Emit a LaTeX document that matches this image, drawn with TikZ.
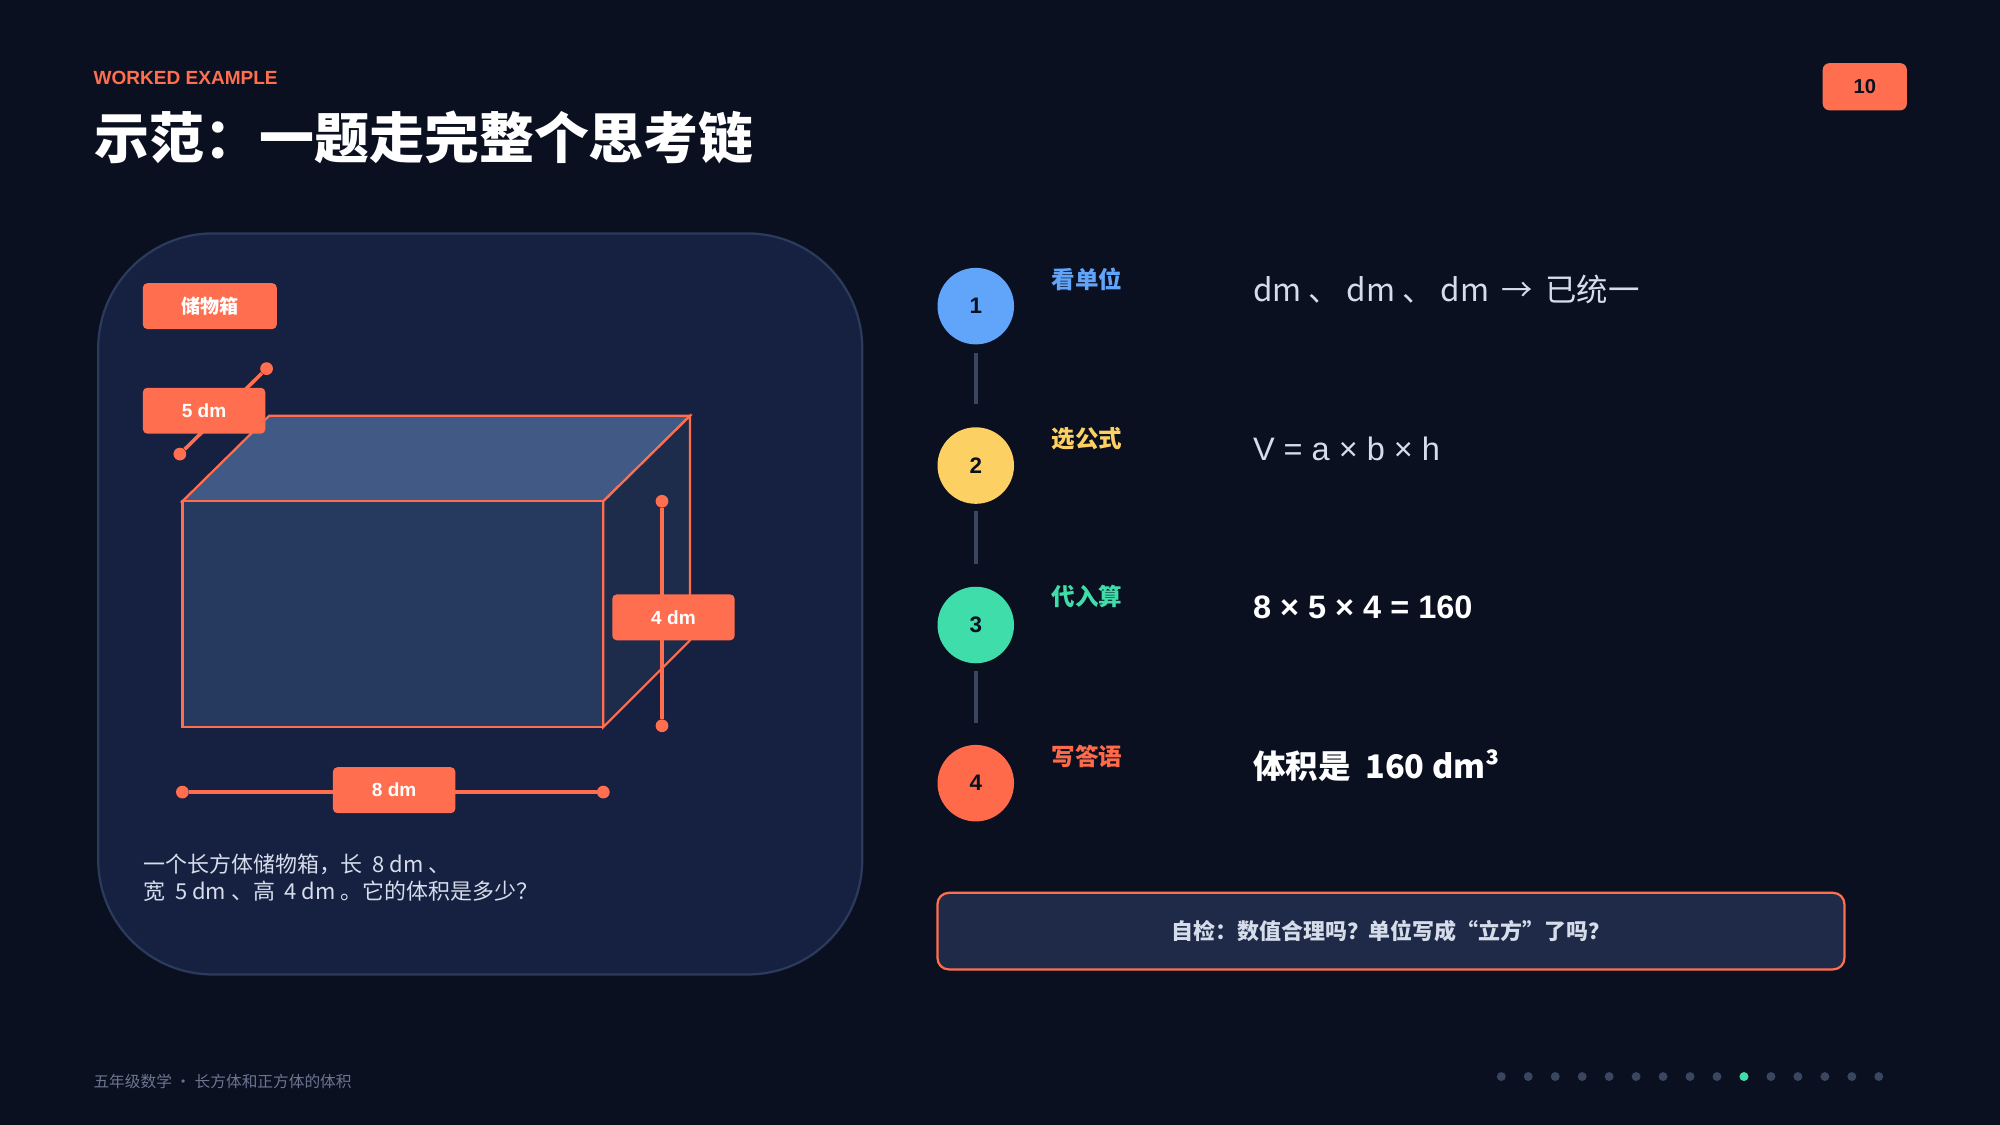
\documentclass[tikz,border=0pt]{standalone}
\usepackage{fontspec}
\setmainfont{Liberation Sans}
\newfontfamily\cjk{Noto Sans CJK SC}
\begin{document}
\definecolor{bg}{HTML}{0B1020}
\definecolor{panel}{HTML}{162040}
\definecolor{panelb}{HTML}{2C3A5C}
\definecolor{acc}{HTML}{FF6F4F}
\definecolor{cb}{HTML}{60A5FA}
\definecolor{cy}{HTML}{FCD062}
\definecolor{cg}{HTML}{3EDDA9}
\definecolor{co}{HTML}{FF6B4A}
\definecolor{txt}{HTML}{D5DCEA}
\definecolor{dimc}{HTML}{6B7590}
\definecolor{conn}{HTML}{3A4560}
\definecolor{ftop}{HTML}{415A85}
\definecolor{fside}{HTML}{1E2C4C}
\definecolor{ffront}{HTML}{263A60}
\definecolor{chkf}{HTML}{1E2A47}
\newcommand{\fs}[1]{\fontsize{#1pt}{#1pt}\selectfont}
\begin{tikzpicture}[x=0.02cm,y=-0.02cm,
 tag/.style={fill=acc,rounded corners=2pt,text=white,font=\cjk\bfseries\fs{8.5},inner sep=0,minimum width=96*0.02cm,minimum height=36*0.02cm},
 dimline/.style={acc,line width=1.6pt},
 dot/.style={circle,fill=acc,inner sep=0,minimum size=0.2cm},
 stp/.style={circle,inner sep=0,minimum size=1.2cm,font=\bfseries\fs{10},text=bg},
 lab/.style={anchor=west,inner sep=0,font=\cjk\bfseries\fs{10.5}},
 body/.style={anchor=west,inner sep=0,text=txt,font=\fs{14.5}}]
\useasboundingbox (0,0) rectangle (1568,882);
\fill[bg] (0,0) rectangle (1568,882);
\node[anchor=west,inner sep=0,text=acc,font=\bfseries\fs{8.5}] (we) at (73,61) {WORKED EXAMPLE};
\node[anchor=west,inner sep=0,text=white,font=\cjk\bfseries\fs{24.5}] (title) at (74,108) {示范：一题走完整个思考链};
\node[fill=acc,rounded corners=3pt,minimum width=66*0.02cm,minimum height=37*0.02cm,inner sep=0,text=bg,font=\bfseries\fs{9}] (pg) at (1462,68) {10};
% panel
\draw[fill=panel,draw=panelb,line width=1pt,rounded corners=1.8cm] (77,183) rectangle (676,764);
% box
\draw[acc,line width=1pt,fill=ftop] (143,393) -- (211,326) -- (541,326) -- (473,393) -- cycle;
\draw[acc,line width=1pt,fill=fside] (473,393) -- (541,326) -- (541,502) -- (473,570) -- cycle;
\draw[acc,line width=1pt,fill=ffront] (143,393) rectangle (473,570);
\node[tag,minimum width=105*0.02cm] (lbl) at (164.5,240) {储物箱};
% dims
\node[dot] (w1) at (141,356) {}; \node[dot] (w2) at (209,289) {};
\draw[dimline] (w1) -- (w2);
\node[tag,font=\bfseries\fs{8.5}] (wl) at (160,322) {5 dm};
\node[dot] (h1) at (519,393) {}; \node[dot] (h2) at (519,569) {};
\draw[dimline] (h1) -- (h2);
\node[tag,font=\bfseries\fs{8.5}] (hl) at (528,484) {4 dm};
\node[dot] (l1) at (143,621) {}; \node[dot] (l2) at (473,621) {};
\draw[dimline] (l1) -- (l2);
\node[tag,font=\bfseries\fs{8.5}] (ll) at (309,619.5) {8 dm};
\node[anchor=west,inner sep=0,text=txt,font=\cjk\fs{9.8}] (d1) at (112,678) {一个长方体储物箱，长\ \ 8 dm 、};
\node[anchor=west,inner sep=0,text=txt,font=\cjk\fs{9.8}] (d2) at (112,699) {宽\ \ 5 dm 、高\ \ 4 dm 。它的体积是多少？};
% steps
\node[stp,fill=cb] (s1) at (765,240) {1};
\node[stp,fill=cy] (s2) at (765,365) {2};
\node[stp,fill=cg] (s3) at (765,490) {3};
\node[stp,fill=co] (s4) at (765,614) {4};
\draw[conn,line width=2pt] (765,277) -- (765,317) (765,401) -- (765,442) (765,526) -- (765,567);
\node[lab,text=cb] (t1) at (824,219) {看单位};
\node[lab,text=cy] (t2) at (824,344) {选公式};
\node[lab,text=cg] (t3) at (824,468) {代入算};
\node[lab,text=co] (t4) at (824,593) {写答语};
\node[body,font=\cjk\fs{14}] (b1) at (982,227) {dm 、 dm 、 dm \,→\, 已统一};
\node[body] (b2) at (982,352) {V = a × b × h};
\node[body,text=white,font=\bfseries\fs{14.5}] (b3) at (982,476) {8 × 5 × 4 = 160};
\node[body,text=white,font=\cjk\bfseries\fs{14.5}] (b4) at (982,600) {体积是\ \ 160 dm³};
% check box
\node[draw=acc,fill=chkf,line width=1pt,rounded corners=5pt,minimum width=711*0.02cm,minimum height=60*0.02cm,inner sep=0,text=txt,font=\cjk\bfseries\fs{9.8}] (chk) at (1090.5,730) {自检：数值合理吗？单位写成“立方”了吗？};
% footer
\node[anchor=west,inner sep=0,text=dimc,font=\cjk\fs{7}] (ft) at (73,848) {五年级数学\ ·\ 长方体和正方体的体积};
\foreach \i in {0,...,14}{\fill[conn] ({1177+21.14*\i},844) circle (3.5);}
\fill[cg] ({1177+21.14*9},844) circle (3.5);
\end{tikzpicture}
\end{document}
